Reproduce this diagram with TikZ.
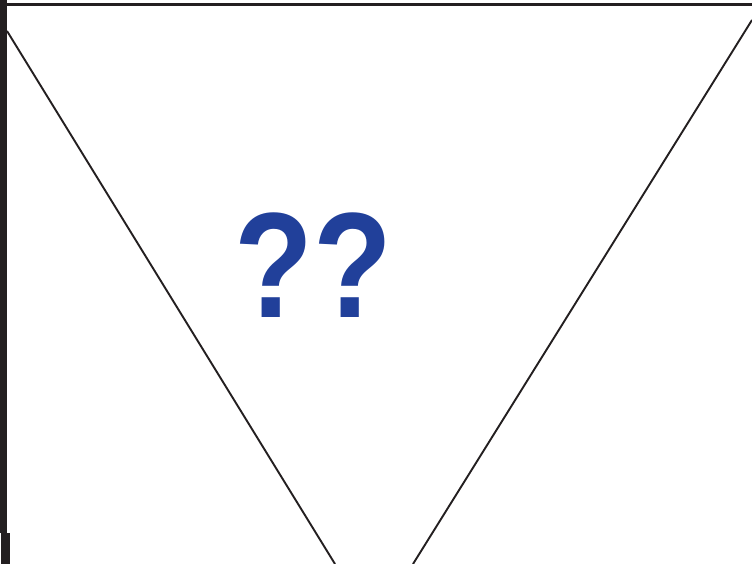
\documentclass[tikz,border=0pt]{standalone}
\usepackage{fontspec}
\setmainfont{Liberation Sans}
\definecolor{qblue}{RGB}{33,64,154}
\definecolor{ink}{RGB}{35,31,32}
\tikzset{
  edgeline/.style={draw=ink, line width=1.9pt},
  qmark/.style={text=qblue, inner sep=0pt, font=\fontsize{150}{150}\selectfont\bfseries}
}
\begin{document}
\begin{tikzpicture}[x=1pt,y=-1pt]
\useasboundingbox (0,0) rectangle (752,564);
% left bar
\fill[ink] (0,0) rectangle (7,533);
\fill[ink] (1,533) rectangle (10,564);
% top line
\draw[ink, line width=3pt] (7,4.5) -- (752,4.5);
% triangle sides
\coordinate (tl) at (7,31);
\coordinate (bl) at (335,564);
\coordinate (tr) at (752,20);
\coordinate (br) at (413,564);
\draw[edgeline] (tl) -- (bl);
\draw[edgeline] (tr) -- (br);
% question marks
\node[qmark, anchor=base] (q) at (313.5,317) {\scalebox{0.86}[1]{??}};
\end{tikzpicture}
\end{document}
